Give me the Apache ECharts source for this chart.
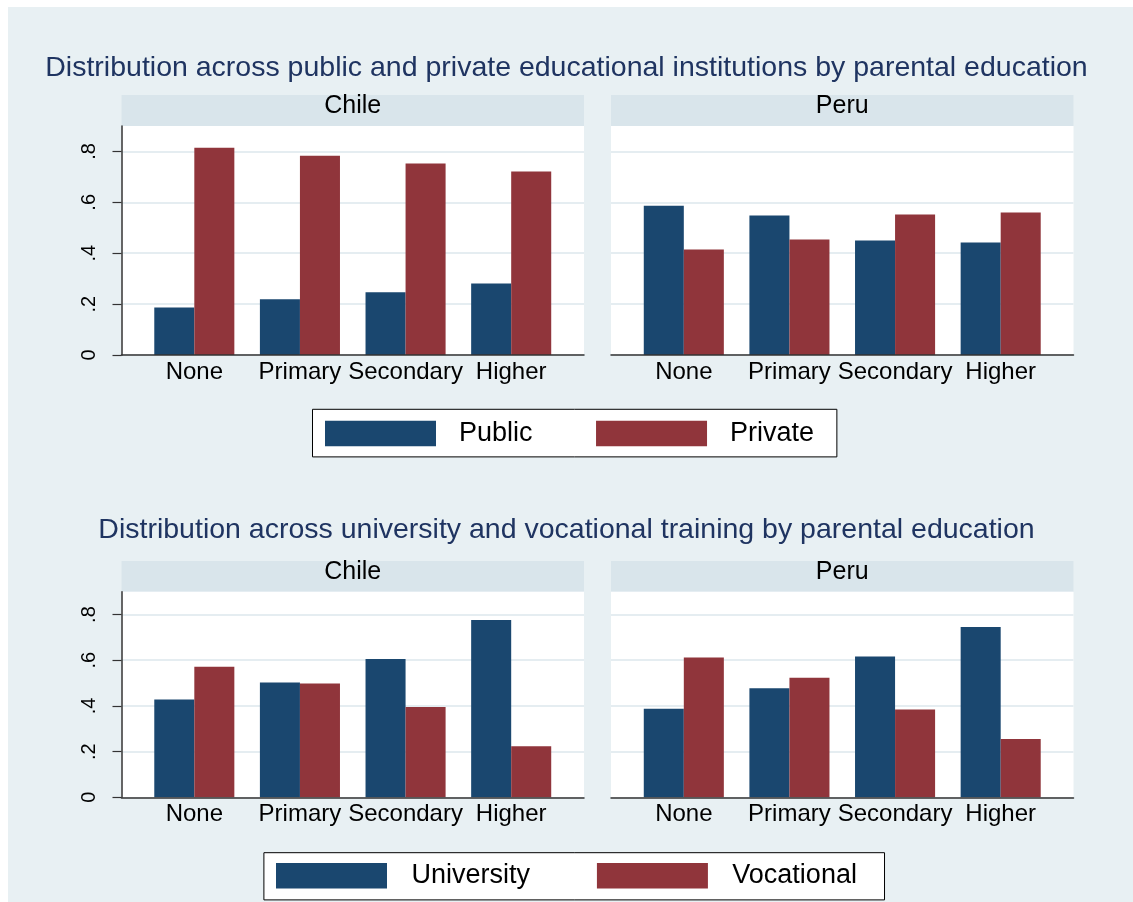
<!DOCTYPE html>
<html>
<head>
<meta charset="utf-8">
<script src="https://cdn.jsdelivr.net/npm/echarts@6/dist/echarts.min.js"></script>
<style>
  html, body { margin: 0; padding: 0; background: #ffffff; }
  #bg { position: absolute; left: 8px; top: 7px; right: 0; bottom: 0; width: 1125px; height: 895px; background: #e8f0f3; }
  #chart { position: absolute; left: 0; top: 0; width: 1133px; height: 902px; }
</style>
</head>
<body>
<div id="bg"></div>
<div id="chart"></div>
<script>
// ---------------- data ----------------
const categories = ['None', 'Primary', 'Secondary', 'Higher'];
const facetNames = ['Chile', 'Peru'];
const yTicks = [0, 0.2, 0.4, 0.6, 0.8];
const yTickLabels = ['0', '.2', '.4', '.6', '.8'];

const chilePublic  = [0.187, 0.219, 0.247, 0.281];
const chilePrivate = [0.815, 0.783, 0.753, 0.721];
const peruPublic   = [0.587, 0.548, 0.450, 0.442];
const peruPrivate  = [0.415, 0.454, 0.552, 0.560];

const chileUniversity = [0.428, 0.502, 0.605, 0.776];
const chileVocational = [0.572, 0.498, 0.395, 0.224];
const peruUniversity  = [0.388, 0.477, 0.616, 0.745];
const peruVocational  = [0.612, 0.523, 0.384, 0.255];

const titleTop = 'Distribution across public and private educational institutions by parental education';
const titleBottom = 'Distribution across university and vocational training by parental education';
const legendTop = ['Public', 'Private'];
const legendBottom = ['University', 'Vocational'];

// ---------------- style / layout ----------------
const FONT = 'Liberation Sans, Arial, Helvetica, sans-serif';
const C_BLUE = '#1a476f';
const C_RED = '#90353b';
const C_STRIP = '#d9e5eb';
const C_GRID = '#e5edf1';
const C_AXIS = '#333333';

const panels = [
  { stripTop: 95, plotTop: 126, plotBottom: 355,
    series: [[chilePublic, chilePrivate], [peruPublic, peruPrivate]], names: legendTop },
  { stripTop: 561, plotTop: 591.7, plotBottom: 797.3,
    series: [[chileUniversity, chileVocational], [peruUniversity, peruVocational]], names: legendBottom }
];
const facetLeft = [121.5, 611];
const facetWidth = 462.5;
const barInset = 20;

const grid = [], xAxis = [], yAxis = [], series = [];

panels.forEach((p, pi) => {
  facetNames.forEach((fname, fi) => {
    const L = facetLeft[fi];
    const H = p.plotBottom - p.plotTop;
    // strip
    let g = grid.length;
    grid.push({ left: L, top: p.stripTop, width: facetWidth, height: p.plotTop - p.stripTop,
      show: true, backgroundColor: C_STRIP, borderWidth: 0 });
    xAxis.push({ gridIndex: g, type: 'value', min: 0, max: 1, show: true,
      axisLine: { show: false }, axisTick: { show: false }, axisLabel: { show: false }, splitLine: { show: false },
      name: fname, nameLocation: 'middle', nameGap: -32,
      nameTextStyle: { fontSize: 25, color: '#000', fontFamily: FONT } });
    yAxis.push({ gridIndex: g, type: 'value', show: false });

    // frame
    g = grid.length;
    grid.push({ left: L, top: p.plotTop, width: facetWidth, height: H,
      show: true, backgroundColor: '#ffffff', borderWidth: 0 });
    xAxis.push({ gridIndex: g, type: 'value', min: 0, max: 1, position: 'bottom', z: 5,
      axisLine: { show: true, lineStyle: { color: C_AXIS, width: 1.5 } },
      axisTick: { show: false }, axisLabel: { show: false }, splitLine: { show: false } });
    yAxis.push({ gridIndex: g, type: 'value', min: 0, max: 0.9, interval: 0.2,
      axisLine: { show: fi === 0, lineStyle: { color: C_AXIS, width: 1.5 } },
      axisTick: { show: fi === 0, inside: false, length: 9, customValues: yTicks, lineStyle: { color: C_AXIS, width: 1.2 } },
      axisLabel: { show: fi === 0, customValues: yTicks, rotate: 90, fontSize: 20, color: '#000', margin: 22,
        fontFamily: FONT,
        formatter: v => { const i = yTicks.findIndex(t => Math.abs(t - v) < 1e-9); return i >= 0 ? yTickLabels[i] : ''; } },
      splitLine: { show: true, lineStyle: { color: C_GRID, width: 2 } } });

    // bars
    g = grid.length;
    grid.push({ left: L + barInset, top: p.plotTop, width: facetWidth - 2 * barInset, height: H, show: false });
    const xi = xAxis.length;
    xAxis.push({ gridIndex: g, type: 'category', data: categories,
      axisLine: { show: false }, axisTick: { show: false }, splitLine: { show: false },
      axisLabel: { interval: 0, fontSize: 24, color: '#000', margin: 5, fontFamily: FONT } });
    yAxis.push({ gridIndex: g, type: 'value', min: 0, max: 0.9, show: false });
    p.series[fi].forEach((vals, si) => {
      series.push({ type: 'bar', name: p.names[si], xAxisIndex: xi, yAxisIndex: xi, data: vals,
        itemStyle: { color: si === 0 ? C_BLUE : C_RED }, barGap: '0%', barCategoryGap: '24.2%',
        silent: true, z: 2 });
    });
  });
});

const option = {
  animation: false,
  backgroundColor: 'transparent',
  textStyle: { fontFamily: FONT },
  title: [
    { text: titleTop, left: 'center', top: 54, padding: [0, 0, 0, 16],
      textStyle: { fontSize: 28.5, fontWeight: 'normal', color: '#1f3461', fontFamily: FONT } },
    { text: titleBottom, left: 'center', top: 516, padding: [0, 0, 0, 16],
      textStyle: { fontSize: 28.5, fontWeight: 'normal', color: '#1f3461', fontFamily: FONT } }
  ],
  legend: [
    { data: legendTop, left: 312.5, top: 409.3, orient: 'horizontal', selectedMode: false,
      icon: 'rect', itemWidth: 111, itemHeight: 25.7, itemGap: 63.5,
      backgroundColor: '#ffffff', borderColor: '#000', borderWidth: 1, borderRadius: 0,
      padding: [10.7, 22.8, 9.9, 12.5],
      textStyle: { fontSize: 27, color: '#000', padding: [0, 0, 0, 18], fontFamily: FONT } },
    { data: legendBottom, left: 263.9, top: 852.7, orient: 'horizontal', selectedMode: false,
      icon: 'rect', itemWidth: 111, itemHeight: 25.4, itemGap: 67,
      backgroundColor: '#ffffff', borderColor: '#000', borderWidth: 1, borderRadius: 0,
      padding: [9.6, 27.6, 10.6, 12.1],
      textStyle: { fontSize: 27, color: '#000', padding: [0, 0, 0, 19.4], fontFamily: FONT } }
  ],
  grid, xAxis, yAxis, series
};

const chart = echarts.init(document.getElementById('chart'), null, { renderer: 'canvas' });
chart.setOption(option);
</script>
</body>
</html>
